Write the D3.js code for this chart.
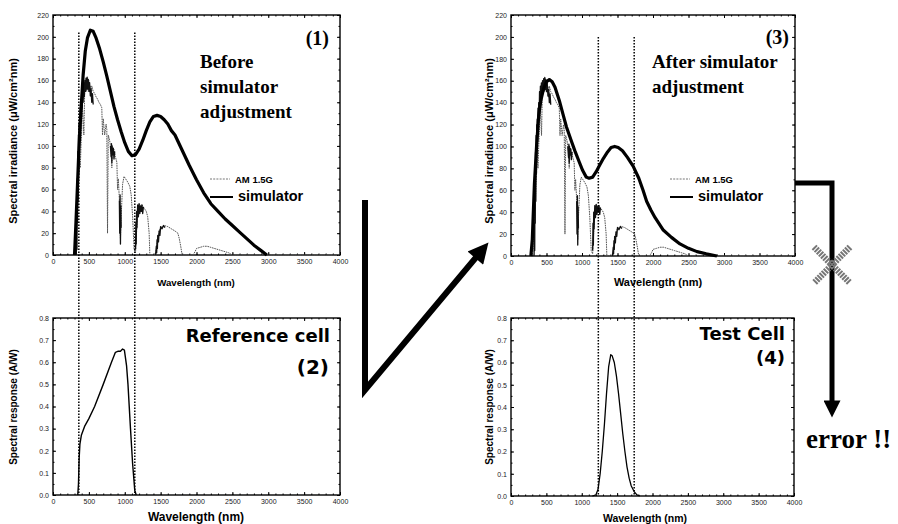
<!DOCTYPE html>
<html>
<head>
<meta charset="utf-8">
<script src="https://cdn.jsdelivr.net/npm/d3@7"></script>
<style>
  body { margin: 0; background: #fff; }
  svg { display: block; }
  .tick text { font-family: "Liberation Sans", Arial, sans-serif; font-size: 7px; fill: #1a1a1a; }
  .lab { font-family: "Liberation Sans", Arial, sans-serif; font-weight: bold; fill: #000; }
  .big { font-family: "DejaVu Sans", sans-serif; font-weight: bold; fill: #000; }
  .serif { font-family: "Liberation Serif", "Times New Roman", serif; font-weight: bold; fill: #000; }
</style>
</head>
<body>
<svg id="fig" width="898" height="524"></svg>
<script>

// tick labels
let wlTicks = [0, 500, 1000, 1500, 2000, 2500, 3000, 3500, 4000];
let irrTicks = [0, 20, 40, 60, 80, 100, 120, 140, 160, 180, 200, 220];
let srTicks = [0, 0.1, 0.2, 0.3, 0.4, 0.5, 0.6, 0.7, 0.8];

// AM 1.5G spectrum (nm, uW/cm2 nm) (1)
let am15g = [
  [280,0],[300,1],[310,5],[320,20],[330,35],[340,45],[350,60],[360,75],[370,90],[380,80],
  [390,100],[400,115],[410,135],[420,125],[430,110],[440,145],[450,155],[460,160],[470,150],
  [480,162],[490,155],[500,160],[510,150],[520,155],[530,145],[540,155],[560,150],[580,148],
  [600,145],[620,143],[640,140],[660,138],[680,135],[690,110],[700,125],[720,110],[730,115],
  [740,120],[750,115],[760,20],[770,110],[790,105],[810,95],[820,80],[830,98],[850,97],
  [870,90],[890,85],[900,60],[910,70],[930,45],[940,15],[950,35],[970,65],[990,72],
  [1010,70],[1040,67],[1070,63],[1090,55],[1110,35],[1130,5],[1150,2],[1160,15],[1180,40],
  [1200,47],[1220,45],[1240,46],[1260,44],[1280,42],[1300,40],[1320,35],[1340,20],[1350,0],
  [1420,0],[1440,5],[1460,15],[1480,22],[1500,25],[1550,27],[1600,26],[1650,24],[1700,22],
  [1740,20],[1760,15],[1780,8],[1800,0],[1950,0],[1980,3],[2000,6],[2050,7],[2100,8],
  [2150,8],[2200,7],[2300,5],[2400,3],[2450,2],[2500,0],[4000,0]
];

// bands where the measured AM 1.5G trace is dense and prints black
let amDarkA = [
  [325,0],[330,30],[334,5],[338,70],[342,30],[346,95],[350,50],[354,110],[358,75],[362,120],
  [366,90],[370,125],[375,105],[380,135],[385,115],[390,140],[396,125],[402,150],[408,135],
  [414,155],[420,140],[428,158],[436,145],[444,160],[452,150],[460,162],[468,152],[476,163],
  [484,152],[492,161],[500,150],[510,158],[520,146],[530,152],[540,140],[550,148],[560,138]
];
let amDarkB = [[800,100],[810,90],[815,102],[820,85],[825,100],[830,92],[840,98],[850,88],[860,95]];
let amDarkC = [[925,50],[930,20],[935,55],[940,10],[945,45],[950,25]];
let amDarkD = [
  [1150,5],[1155,30],[1160,10],[1165,40],[1170,25],[1180,46],[1190,35],[1200,47],[1210,38],
  [1220,45],[1230,40],[1240,46],[1250,38],[1260,44]
];
let amDarkE = [
  [1430,0],[1440,8],[1445,2],[1450,14],[1455,6],[1460,18],[1470,12],[1480,22],[1490,18],
  [1500,26],[1520,24],[1540,27],[1560,25]
];

// simulator before adjustment (panel 1)
let simBefore = [
  [300,0],[320,30],[340,62],[360,95],[390,133],[420,165],[450,187],[480,199],[520,206],
  [560,205],[600,199],[650,189],[700,177],[750,164],[800,150],[850,136],[900,124],[950,113],
  [1000,103],[1050,95],[1100,91],[1150,92],[1200,97],[1250,105],[1300,114],[1350,122],
  [1400,127],[1450,128],[1500,127],[1550,124],[1600,120],[1650,114],[1700,110],[1800,96],
  [1900,82],[2000,69],[2100,57],[2200,47],[2300,40],[2400,33],[2500,27],[2600,21],
  [2700,15],[2800,9],[2900,4],[2980,0]
];

// simulator after adjustment (panel 3)
let simAfter = [
  [280,0],[300,15],[330,66],[360,100],[390,128],[420,142],[460,153],[500,159],[540,161],
  [580,159],[620,154],[680,142],[730,130],[780,118],[850,105],[900,96],[960,86],[1010,78],
  [1060,72],[1100,71],[1150,72],[1200,77],[1250,83],[1300,89],[1360,95],[1410,99],
  [1460,100],[1510,99],[1570,96],[1640,90],[1720,82],[1800,71],[1860,60],[1910,50],
  [1970,42],[2030,35],[2140,24],[2260,17],[2380,11],[2500,7],[2620,4],[2750,2],[2900,0]
];

// spectral response (A/W)
let refCell = [
  [345,0],[355,0.05],[365,0.17],[375,0.23],[395,0.27],[440,0.31],[500,0.345],[580,0.4],
  [700,0.5],[815,0.6],[870,0.645],[910,0.65],[940,0.65],[970,0.66],[995,0.655],[1010,0.62],
  [1025,0.585],[1045,0.5],[1080,0.3],[1110,0.14],[1140,0.02],[1160,0]
];
let testCell = [
  [1150,0],[1200,0.005],[1230,0.03],[1260,0.1],[1290,0.2],[1320,0.32],[1350,0.46],
  [1380,0.58],[1410,0.635],[1430,0.63],[1460,0.6],[1490,0.54],[1520,0.46],[1550,0.37],
  [1580,0.28],[1610,0.2],[1640,0.13],[1670,0.08],[1700,0.045],[1740,0.02],[1780,0.005],[1820,0]
];

// wavelength limits of the cells (dotted lines)
let refLimits = [360, 1140];
let testLimits = [1230, 1735];


const svg = d3.select("#fig");

function makePanel(box, yDomain, yTicks, yFmt) {
  const x = d3.scaleLinear().domain([0, 4000]).range([box.left, box.right]);
  const y = d3.scaleLinear().domain(yDomain).range([box.bottom, box.top]);
  const g = svg.append("g");

  // minor + major ticks on all four sides, pointing in
  const minorX = x.ticks(32), minorY = y.ticks(yTicks.length * 2);
  g.append("g").attr("transform", "translate(0," + box.bottom + ")")
    .call(d3.axisBottom(x).tickValues(minorX).tickSize(-1.5).tickFormat(""));
  g.append("g").attr("transform", "translate(0," + box.top + ")")
    .call(d3.axisTop(x).tickValues(minorX).tickSize(-1.5).tickFormat(""));
  g.append("g").attr("transform", "translate(" + box.left + ",0)")
    .call(d3.axisLeft(y).tickValues(minorY).tickSize(-1.5).tickFormat(""));
  g.append("g").attr("transform", "translate(" + box.right + ",0)")
    .call(d3.axisRight(y).tickValues(minorY).tickSize(-1.5).tickFormat(""));

  g.append("g").attr("transform", "translate(0," + box.bottom + ")")
    .call(d3.axisBottom(x).tickValues(wlTicks).tickSize(-3).tickPadding(4).tickFormat(d3.format("d")));
  g.append("g").attr("transform", "translate(" + box.left + ",0)")
    .call(d3.axisLeft(y).tickValues(yTicks).tickSize(-3).tickPadding(4).tickFormat(yFmt));
  g.append("g").attr("transform", "translate(0," + box.top + ")")
    .call(d3.axisTop(x).tickValues(wlTicks).tickSize(-3).tickFormat(""));
  g.append("g").attr("transform", "translate(" + box.right + ",0)")
    .call(d3.axisRight(y).tickValues(yTicks).tickSize(-3).tickFormat(""));

  g.selectAll(".domain").remove();
  g.selectAll(".tick line").attr("stroke", "#000").attr("stroke-width", 1);

  g.append("rect")
    .attr("x", box.left).attr("y", box.top)
    .attr("width", box.right - box.left).attr("height", box.bottom - box.top)
    .attr("fill", "none").attr("stroke", "#000").attr("stroke-width", 1.4);

  return { x: x, y: y, g: g, box: box };
}

function drawLine(p, data, stroke, width, dash) {
  const line = d3.line().x(d => p.x(d[0])).y(d => p.y(d[1]));
  p.g.append("path").datum(data)
    .attr("d", line)
    .attr("fill", "none")
    .attr("stroke", stroke)
    .attr("stroke-width", width)
    .attr("stroke-linejoin", "round")
    .attr("stroke-dasharray", dash || null);
}

function drawAM(p) {
  drawLine(p, am15g, "#555", 1, "1.6,0.8");
  [amDarkA, amDarkB, amDarkC, amDarkD, amDarkE].forEach(seg => drawLine(p, seg, "#111", 1.3));
}

function yLabel(x, y, size, txt) {
  svg.append("text").attr("class", "lab")
    .attr("transform", "translate(" + x + "," + y + ") rotate(-90)")
    .attr("text-anchor", "middle").style("font-size", size + "px")
    .text(txt);
}

function xLabel(x, y, size, txt) {
  svg.append("text").attr("class", "lab")
    .attr("x", x).attr("y", y)
    .attr("text-anchor", "middle").style("font-size", size + "px")
    .text(txt);
}

const f0 = d3.format("d"), f1 = d3.format(".1f");

const p1 = makePanel({ left: 53, right: 340, top: 15, bottom: 255 }, [0, 220], irrTicks, f0);
const p2 = makePanel({ left: 53, right: 340, top: 318, bottom: 495 }, [0, 0.8], srTicks, f1);
const p3 = makePanel({ left: 511, right: 795, top: 15, bottom: 256 }, [0, 220], irrTicks, f0);
const p4 = makePanel({ left: 511, right: 794, top: 318, bottom: 496 }, [0, 0.8], srTicks, f1);

// curves
drawAM(p1);
drawLine(p1, simBefore, "#000", 3.2);
drawAM(p3);
drawLine(p3, simAfter, "#000", 3.2);
drawLine(p2, refCell, "#000", 1.4);
drawLine(p4, testCell, "#000", 1.3);

// dotted cut-off lines running across the two stacked panels
refLimits.forEach(w => {
  svg.append("line")
    .attr("x1", p1.x(w)).attr("x2", p1.x(w))
    .attr("y1", p1.y(204)).attr("y2", p2.y(0))
    .attr("stroke", "#000").attr("stroke-width", 1.5).attr("stroke-dasharray", "1.6,1.4");
});
testLimits.forEach(w => {
  svg.append("line")
    .attr("x1", p3.x(w)).attr("x2", p3.x(w))
    .attr("y1", p3.y(200)).attr("y2", p4.y(0))
    .attr("stroke", "#000").attr("stroke-width", 1.5).attr("stroke-dasharray", "1.6,1.4");
});

// axis titles
yLabel(17, 141, 11, "Spectral irradiance (\u03bcW/cm\u00b2nm)");
yLabel(17, 407, 10, "Spectral response (A/W)");
yLabel(493, 141, 11, "Spectral irradiance (\u03bcW/cm\u00b2nm)");
yLabel(493, 407, 10, "Spectral response (A/W)");
xLabel(196, 286, 9.7, "Wavelength (nm)");
xLabel(196, 521, 12, "Wavelength (nm)");
xLabel(658, 286, 11, "Wavelength (nm)");
xLabel(645, 522, 10.5, "Wavelength (nm)");

// legends
function legend(x0, y0) {
  svg.append("line").attr("x1", x0).attr("x2", x0 + 20).attr("y1", y0).attr("y2", y0)
    .attr("stroke", "#777").attr("stroke-width", 1).attr("stroke-dasharray", "2,1.2");
  svg.append("text").attr("class", "lab").attr("x", x0 + 25).attr("y", y0 + 3.5)
    .style("font-size", "9.5px").text("AM 1.5G");
  svg.append("line").attr("x1", x0).attr("x2", x0 + 23).attr("y1", y0 + 18).attr("y2", y0 + 18)
    .attr("stroke", "#000").attr("stroke-width", 2);
  svg.append("text").attr("class", "lab").attr("x", x0 + 28).attr("y", y0 + 22)
    .style("font-size", "14.5px").text("simulator");
}
legend(210, 179);
legend(670, 179);

// panel captions
function txt(cls, x, y, size, anchor, s) {
  svg.append("text").attr("class", cls).attr("x", x).attr("y", y)
    .attr("text-anchor", anchor).style("font-size", size + "px").text(s);
}
txt("serif", 329, 45, 20, "end", "(1)");
txt("serif", 200, 68, 19, "start", "Before");
txt("serif", 200, 93, 19, "start", "simulator");
txt("serif", 200, 118, 19, "start", "adjustment");
txt("serif", 789, 44, 20, "end", "(3)");
txt("serif", 652, 68, 19, "start", "After simulator");
txt("serif", 652, 93, 19, "start", "adjustment");
txt("big", 330, 342, 18, "end", "Reference cell");
txt("big", 329, 374, 20, "end", "(2)");
txt("big", 785, 340, 18, "end", "Test Cell");
txt("big", 785, 364, 18, "end", "(4)");
txt("serif", 806, 448, 27, "start", "error !!");

// arrows
const defs = svg.append("defs");
defs.append("marker").attr("id", "head").attr("viewBox", "0 0 10 10")
  .attr("refX", 2).attr("refY", 5).attr("markerWidth", 4).attr("markerHeight", 3.4)
  .attr("orient", "auto").attr("markerUnits", "strokeWidth")
  .append("path").attr("d", "M0,0 L10,5 L0,10 Z").attr("fill", "#000");

svg.append("path")
  .attr("d", "M365,200 L365,390 L478,255")
  .attr("fill", "none").attr("stroke", "#000").attr("stroke-width", 6)
  .attr("stroke-linejoin", "miter").attr("marker-end", "url(#head)");

svg.append("path")
  .attr("d", "M795,183 L832,183 L832,404")
  .attr("fill", "none").attr("stroke", "#000").attr("stroke-width", 5)
  .attr("stroke-linejoin", "miter").attr("marker-end", "url(#head)");

// grey cross on the error path
svg.append("path")
  .attr("d", "M814,247 L850,283 M850,247 L814,283")
  .attr("stroke", "#777").attr("stroke-width", 6.5).attr("stroke-dasharray", "2,1");

</script>
</body>
</html>
